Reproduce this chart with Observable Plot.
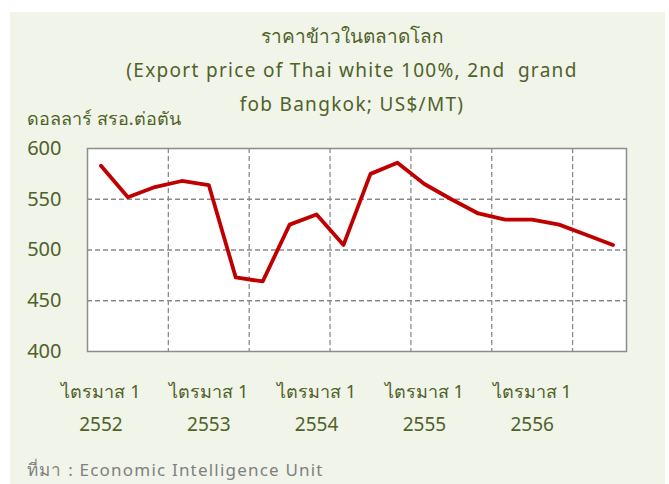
<!DOCTYPE html>
<html>
<head>
<meta charset="utf-8">
<script src="https://cdn.jsdelivr.net/npm/d3@7"></script>
<script src="https://cdn.jsdelivr.net/npm/@observablehq/plot@0.6"></script>
<style>
  html, body { margin: 0; padding: 0; background: #ffffff; }
  #wrap { position: relative; width: 669px; height: 484px; overflow: hidden; }
  #panel { position: absolute; left: 10px; top: 12px; width: 655px; height: 472px; background: #f1f4e9; }
  .t { position: absolute; font-family: "Noto Sans", "DejaVu Sans", sans-serif; font-weight: 420; color: #4f6228; white-space: nowrap; }
  #title { left: 35px; width: 634px; top: 19px; text-align: center; font-size: 19px; line-height: 34px; }
  #title .lat { letter-spacing: 1.3px; }
  #ylab { left: 27px; top: 104px; font-size: 18px; }
  #src { left: 27px; top: 456px; font-size: 17px; color: #808080; letter-spacing: 1.2px; font-weight: 400; }
  #chart { position: absolute; left: 0; top: 0; }
</style>
</head>
<body>
<div id="wrap">
  <div id="panel"></div>
  <div id="chart"></div>
  <div class="t" id="title">ราคาข้าวในตลาดโลก<br><span class="lat">(Export price of Thai white 100%, 2nd&nbsp; grand</span><br><span class="lat">fob Bangkok; US$/MT)</span></div>
  <div class="t" id="ylab">ดอลลาร์ สรอ.ต่อตัน</div>
  <div class="t" id="src">ที่มา : Economic Intelligence Unit</div>
</div>
<script>
// Quarterly data, Q1 2552 .. Q4 2556
const quarters = [
  "Q1/2552","Q2/2552","Q3/2552","Q4/2552",
  "Q1/2553","Q2/2553","Q3/2553","Q4/2553",
  "Q1/2554","Q2/2554","Q3/2554","Q4/2554",
  "Q1/2555","Q2/2555","Q3/2555","Q4/2555",
  "Q1/2556","Q2/2556","Q3/2556","Q4/2556"
];
const prices = [583, 552, 562, 568, 564, 473, 469, 525, 535, 505,
                575, 586, 565, 550, 536, 530, 530, 525, 515, 505];
const tickQuarterLabel = ["ไตรมาส 1","ไตรมาส 1","ไตรมาส 1","ไตรมาส 1","ไตรมาส 1"];
const tickYears = ["2552","2553","2554","2555","2556"];
const tickIndices = [0, 4, 8, 12, 16];
const yTicks = [400, 450, 500, 550, 600];
const yGrid = [450, 500, 550];
const gridEvery = 3;

const data = quarters.map((q, i) => ({i, q, v: prices[i]}));
const xGrid = d3.range(gridEvery - 0.5, quarters.length - 1, gridEvery);
const xTicks = tickIndices.map((i, k) => ({i, top: tickQuarterLabel[k], year: tickYears[k]}));

const green = "#4f6228";
const font = "Noto Sans, DejaVu Sans, sans-serif";

const chart = Plot.plot({
  width: 669,
  height: 484,
  marginLeft: 87,
  marginRight: 43,
  marginTop: 148,
  marginBottom: 133,
  style: {background: "transparent", fontFamily: font, fontWeight: 420, overflow: "visible"},
  x: {type: "linear", domain: [-0.5, quarters.length - 0.5], axis: null},
  y: {domain: [400, 600], axis: null, label: null},
  marks: [
    Plot.frame({fill: "white", stroke: null}),
    Plot.ruleY(yGrid, {stroke: "#8a8a8a", strokeWidth: 1.3, strokeDasharray: "5,3"}),
    Plot.ruleX(xGrid, {stroke: "#8a8a8a", strokeWidth: 1.3, strokeDasharray: "5,3"}),
    Plot.frame({stroke: "#8c8c8c", strokeWidth: 1.5}),
    Plot.lineY(data, {x: "i", y: "v", stroke: "#c00000", strokeWidth: 3.8, strokeLinejoin: "round"}),
    Plot.axisY(yTicks, {anchor: "left", tickSize: 0, tickPadding: 26, fontSize: 20, fill: green, label: null}),
    Plot.text(xTicks, {x: "i", text: "top", frameAnchor: "bottom", dy: 46, fontSize: 18, fill: green}),
    Plot.text(xTicks, {x: "i", text: "year", frameAnchor: "bottom", dy: 79, fontSize: 19, fill: green})
  ]
});
document.getElementById("chart").appendChild(chart);
</script>
</body>
</html>
